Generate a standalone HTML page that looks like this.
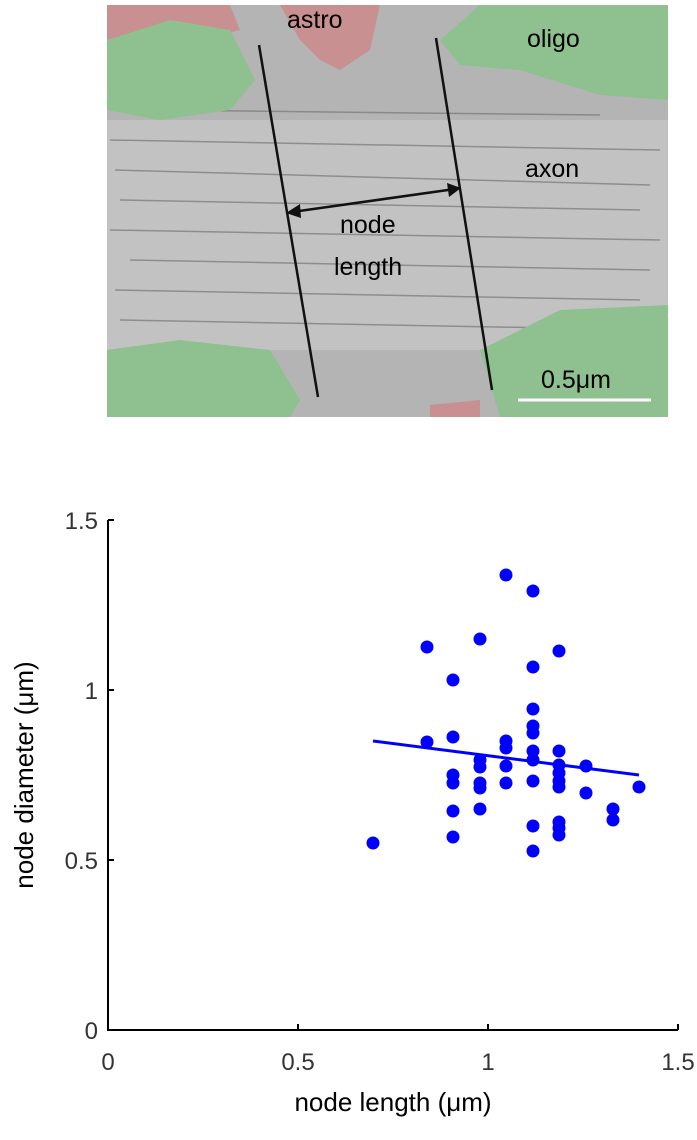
<!DOCTYPE html>
<html><head><style>body{margin:0;background:#fff;}svg{display:block}</style></head><body>
<svg width="697" height="1140" xmlns="http://www.w3.org/2000/svg" font-family="Liberation Sans, sans-serif">
<rect x="107" y="5" width="561" height="412" fill="#b4b4b4"/>
<rect x="107" y="120" width="561" height="230" fill="#c2c2c2"/>
<g stroke="#777" stroke-width="1.5" opacity="0.7">
<path d="M110 140 L660 150 M115 170 L650 185 M120 200 L640 210 M110 230 L660 240 M130 260 L650 270 M115 290 L640 300 M120 320 L660 330 M150 110 L600 115"/>
</g>
<path d="M107 5 L230 5 L240 30 L200 40 L150 45 L107 45 Z" fill="#c89090"/>
<path d="M280 5 L380 5 L370 50 L340 70 L320 60 L300 40 Z" fill="#c89090"/>
<path d="M107 40 L170 20 L230 30 L255 80 L230 110 L160 120 L107 110 Z" fill="#8fc08f"/>
<path d="M440 40 L480 5 L668 5 L668 100 L600 95 L520 70 L460 65 Z" fill="#8fc08f"/>
<path d="M107 350 L180 340 L270 350 L300 400 L290 417 L107 417 Z" fill="#8fc08f"/>
<path d="M480 350 L560 310 L668 305 L668 417 L500 417 Z" fill="#8fc08f"/>
<path d="M430 405 L480 400 L480 417 L430 417 Z" fill="#c89090"/>
<line x1="259" y1="45" x2="318" y2="397" stroke="#111" stroke-width="2.5"/>
<line x1="436" y1="38" x2="492" y2="390" stroke="#111" stroke-width="2.5"/>
<line x1="292" y1="212" x2="455" y2="189" stroke="#111" stroke-width="2.5"/>
<path d="M286 213 L300 204 L301 218 Z M461 188 L447 183 L449 197 Z" fill="#111"/>
<g font-size="25" fill="#000">
<text x="287" y="28">astro</text>
<text x="527" y="47">oligo</text>
<text x="525" y="177">axon</text>
<text x="340" y="233">node</text>
<text x="334" y="275">length</text>
<text x="541" y="388">0.5μm</text>
</g>
<line x1="518" y1="400" x2="651" y2="400" stroke="#fff" stroke-width="3"/>
<g stroke="#000" stroke-width="2" fill="none">
<path d="M108 520 L108 1030 L678 1030"/>
<path d="M108 520 h6 M108 690 h6 M108 860 h6 M298 1030 v-6 M488 1030 v-6 M678 1030 v-6"/>
</g>
<g font-size="24" fill="#333">
<text x="98" y="529" text-anchor="end">1.5</text>
<text x="98" y="699" text-anchor="end">1</text>
<text x="98" y="869" text-anchor="end">0.5</text>
<text x="98" y="1039" text-anchor="end">0</text>
<text x="108" y="1070" text-anchor="middle">0</text>
<text x="298" y="1070" text-anchor="middle">0.5</text>
<text x="488" y="1070" text-anchor="middle">1</text>
<text x="678" y="1070" text-anchor="middle">1.5</text>
</g>
<text x="393" y="1111" font-size="26" text-anchor="middle" fill="#000">node length (μm)</text>
<text transform="translate(33 775) rotate(-90)" font-size="26" text-anchor="middle" fill="#000">node diameter (μm)</text>
<line x1="373" y1="741" x2="639" y2="775" stroke="#00f" stroke-width="3"/>
<g fill="#00f">
<circle cx="506" cy="575" r="6.5"/><circle cx="533" cy="591" r="6.5"/><circle cx="427" cy="647" r="6.5"/><circle cx="480" cy="639" r="6.5"/><circle cx="559" cy="651" r="6.5"/><circle cx="533" cy="667" r="6.5"/><circle cx="453" cy="680" r="6.5"/><circle cx="533" cy="709" r="6.5"/><circle cx="533" cy="726" r="6.5"/><circle cx="533" cy="733" r="6.5"/><circle cx="427" cy="742" r="6.5"/><circle cx="453" cy="737" r="6.5"/><circle cx="506" cy="741" r="6.5"/><circle cx="506" cy="748" r="6.5"/><circle cx="533" cy="751" r="6.5"/><circle cx="533" cy="760" r="6.5"/><circle cx="559" cy="751" r="6.5"/><circle cx="480" cy="760" r="6.5"/><circle cx="480" cy="767" r="6.5"/><circle cx="506" cy="766" r="6.5"/><circle cx="559" cy="765" r="6.5"/><circle cx="559" cy="773" r="6.5"/><circle cx="586" cy="766" r="6.5"/><circle cx="453" cy="775" r="6.5"/><circle cx="453" cy="783" r="6.5"/><circle cx="480" cy="783" r="6.5"/><circle cx="480" cy="788" r="6.5"/><circle cx="506" cy="783" r="6.5"/><circle cx="533" cy="781" r="6.5"/><circle cx="559" cy="781" r="6.5"/><circle cx="559" cy="787" r="6.5"/><circle cx="639" cy="787" r="6.5"/><circle cx="586" cy="793" r="6.5"/><circle cx="453" cy="811" r="6.5"/><circle cx="480" cy="809" r="6.5"/><circle cx="613" cy="809" r="6.5"/><circle cx="613" cy="820" r="6.5"/><circle cx="533" cy="826" r="6.5"/><circle cx="559" cy="822" r="6.5"/><circle cx="559" cy="828" r="6.5"/><circle cx="559" cy="835" r="6.5"/><circle cx="453" cy="837" r="6.5"/><circle cx="373" cy="843" r="6.5"/><circle cx="533" cy="851" r="6.5"/>
</g>
</svg>
</body></html>
